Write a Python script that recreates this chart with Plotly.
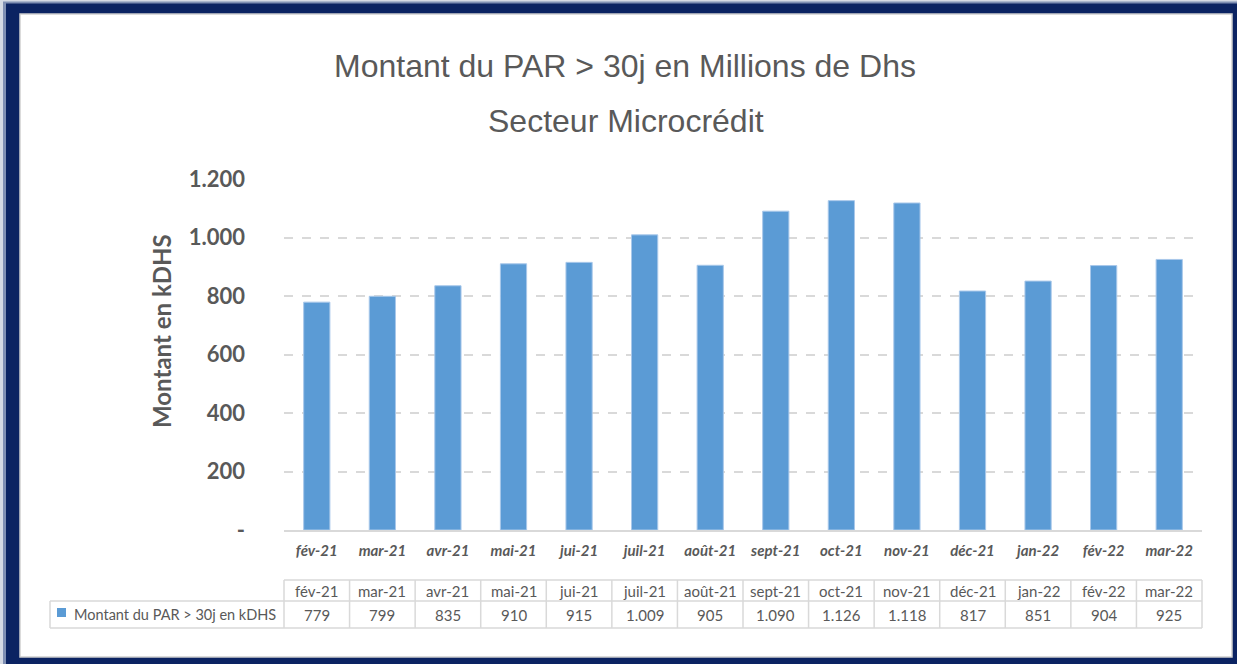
import plotly.graph_objects as go

categories = ["fév-21", "mar-21", "avr-21", "mai-21", "jui-21", "juil-21", "août-21",
              "sept-21", "oct-21", "nov-21", "déc-21", "jan-22", "fév-22", "mar-22"]
values = [779, 799, 835, 910, 915, 1009, 905, 1090, 1126, 1118, 817, 851, 904, 925]
series_name = "Montant du PAR > 30j en kDHS"
tick_vals = [0, 200, 400, 600, 800, 1000, 1200]
tick_text = ["-", "200", "400", "600", "800", "1.000", "1.200"]
title_line1 = "Montant du PAR > 30j en Millions de Dhs"
title_line2 = "Secteur Microcrédit"
y_title = "Montant en kDHS"

W, H = 1237, 664
L, R, T, B = 284, 1202, 179, 530
BAR = "#5b9bd5"
GRAY = "#595959"
GRID = "#d9d9d9"
NAVY = "#0b2362"


def px(x):
    return (x - L) / (R - L)


def py(y):
    return (B - y) / (B - T)


def fmt(v):
    return f"{v:,}".replace(",", ".")


n = len(categories)

fig = go.Figure()
fig.add_trace(go.Bar(
    x=categories, y=values, name=series_name,
    marker=dict(color=BAR, line=dict(color="#a9c8ea", width=1)),
    width=0.4, showlegend=False, hoverinfo="x+y",
))

shapes = []
# frame: shadow, navy border, white inner
shapes.append(dict(type="rect", xref="paper", yref="paper", layer="below",
                   x0=px(0), x1=px(1240), y0=py(667), y1=py(0),
                   fillcolor="#d5dae4", line=dict(width=0)))
shapes.append(dict(type="rect", xref="paper", yref="paper", layer="below",
                   x0=px(3), x1=px(1240), y0=py(667), y1=py(1.5),
                   fillcolor="#7f8fb3", line=dict(width=0)))
shapes.append(dict(type="rect", xref="paper", yref="paper", layer="below",
                   x0=px(6), x1=px(1240), y0=py(667), y1=py(3.5),
                   fillcolor=NAVY, line=dict(width=0)))
shapes.append(dict(type="rect", xref="paper", yref="paper", layer="below",
                   x0=px(20), x1=px(1232), y0=py(657), y1=py(14),
                   fillcolor="white", line=dict(color="#d0d0d0", width=1.5)))

# data table grid
y_head_top, y_mid, y_bot = 580, 601, 628
x_left = 50
lc = dict(color=GRID, width=1.5)
shapes.append(dict(type="line", xref="paper", yref="paper",
                   x0=px(L), x1=1, y0=py(y_head_top), y1=py(y_head_top), line=lc))
shapes.append(dict(type="line", xref="paper", yref="paper",
                   x0=px(x_left), x1=1, y0=py(y_mid), y1=py(y_mid), line=lc))
shapes.append(dict(type="line", xref="paper", yref="paper",
                   x0=px(x_left), x1=1, y0=py(y_bot), y1=py(y_bot), line=lc))
shapes.append(dict(type="line", xref="paper", yref="paper",
                   x0=px(x_left), x1=px(x_left), y0=py(y_mid), y1=py(y_bot), line=lc))
for i in range(n + 1):
    xx = i / n
    shapes.append(dict(type="line", xref="paper", yref="paper",
                       x0=xx, x1=xx, y0=py(y_head_top), y1=py(y_bot), line=lc))
# legend key square
shapes.append(dict(type="rect", xref="paper", yref="paper",
                   x0=px(57), x1=px(66), y0=py(617), y1=py(608),
                   fillcolor=BAR, line=dict(width=0)))

annotations = []
annotations.append(dict(text=title_line1, xref="paper", yref="paper",
                        x=px(625), y=py(66), xanchor="center", yanchor="middle",
                        showarrow=False,
                        font=dict(family="Liberation Sans, Arial", size=32, color=GRAY)))
annotations.append(dict(text=title_line2, xref="paper", yref="paper",
                        x=px(626), y=py(121), xanchor="center", yanchor="middle",
                        showarrow=False,
                        font=dict(family="Liberation Sans, Arial", size=32, color=GRAY)))
annotations.append(dict(text=y_title, xref="paper", yref="paper",
                        x=px(161), y=py(331), xanchor="center", yanchor="middle",
                        showarrow=False, textangle=-90,
                        font=dict(family="Lato", size=24, color=GRAY, weight="bold")))
annotations.append(dict(text=series_name, xref="paper", yref="paper",
                        x=px(72), y=py(614.5), xanchor="left", yanchor="middle",
                        showarrow=False,
                        font=dict(family="Lato", size=14.5, color=GRAY)))
for i, (c, v) in enumerate(zip(categories, values)):
    annotations.append(dict(text=c, xref="paper", yref="paper",
                            x=(i + 0.5) / n, y=py(590.5), xanchor="center", yanchor="middle",
                            showarrow=False,
                            font=dict(family="Lato", size=15, color=GRAY)))
    annotations.append(dict(text=fmt(v), xref="paper", yref="paper",
                            x=(i + 0.5) / n, y=py(614.5), xanchor="center", yanchor="middle",
                            showarrow=False,
                            font=dict(family="Lato", size=15, color=GRAY)))

fig.update_layout(
    width=W, height=H,
    margin=dict(l=L, r=W - R, t=T, b=H - B, pad=0),
    paper_bgcolor="white", plot_bgcolor="rgba(0,0,0,0)",
    shapes=shapes, annotations=annotations,
    xaxis=dict(
        type="category", range=[-0.5, n - 0.5],
        showline=True, linecolor=GRID, linewidth=1.5,
        ticks="", showgrid=False,
        tickfont=dict(family="Lato", size=15, color=GRAY, weight="bold", style="italic"),
        ticklabelstandoff=6,
    ),
    yaxis=dict(
        range=[0, 1200], tickvals=tick_vals, ticktext=tick_text,
        showgrid=True, gridcolor=GRID, gridwidth=1.5, griddash="dash",
        zeroline=False, showline=False, ticks="",
        tickfont=dict(family="Lato", size=22, color=GRAY, weight="bold"),
        ticklabelstandoff=38,
    ),
)

fig.write_html("out.html", config={"displayModeBar": False},
               post_script="document.body.style.margin='0';document.body.style.overflow='hidden';")
